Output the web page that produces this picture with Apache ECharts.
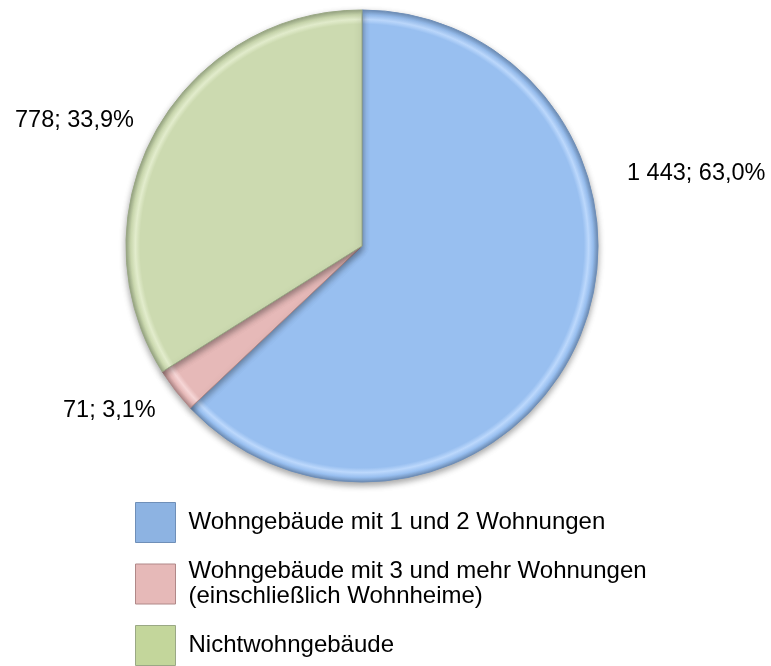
<!DOCTYPE html>
<html><head><meta charset="utf-8">
<script src="https://cdn.jsdelivr.net/npm/echarts@6/dist/echarts.min.js"></script>
<style>html,body{margin:0;padding:0;background:#fff}#c{width:771px;height:666px}</style>
</head><body><div id="c"></div>
<script>
const categories = ["Wohngebäude mit 1 und 2 Wohnungen", "Wohngebäude mit 3 und mehr Wohnungen\n(einschließlich Wohnheime)", "Nichtwohngebäude"];
const values = [1443, 71, 778];
const labelTexts = ["1 443; 63,0%", "71; 3,1%", "778; 33,9%"];
const baseColors = ["#98BFF0", "#E6B9B8", "#CCDAB0"];
const lightColors = ["#BCD8FC", "#F6D6D6", "#E2ECCC"];
const darkColors = ["#6F8FB8", "#B08888", "#9AA885"];
const legendColors = ["#8DB3E2", "#E6B9B8", "#C3D69B"];

const CX = 362, CY = 246, R = 236;
const labelPos = [[627, 174], [63, 411], [15, 121]];

function grad(i) {
  return {
    type: 'radial', x: CX, y: CY, r: R, global: true,
    colorStops: [
      {offset: 0, color: baseColors[i]},
      {offset: 0.94, color: baseColors[i]},
      {offset: 0.96, color: lightColors[i]},
      {offset: 0.98, color: baseColors[i]},
      {offset: 1, color: darkColors[i]}
    ]
  };
}

const data = values.map((v, i) => ({
  name: categories[i], value: v,
  itemStyle: {color: grad(i), borderColor: darkColors[i], borderWidth: 1,
    shadowBlur: 6, shadowColor: 'rgba(0,0,0,0.35)', shadowOffsetY: 3},
  label: {formatter: labelTexts[i]}
}));

const chart = echarts.init(document.getElementById('c'), null, {renderer: 'canvas'});
chart.setOption({
  animation: false,
  backgroundColor: '#fff',
  legend: {
    orient: 'vertical', left: 135, top: 502, padding: 0,
    itemWidth: 40, itemHeight: 40, itemGap: 16,
    icon: 'rect',
    textStyle: {fontFamily: 'Liberation Sans, Arial, sans-serif', fontSize: 24, color: '#000', lineHeight: 25, padding: [0, 0, 0, 8]},
    data: categories.map((c, i) => ({name: c, itemStyle: {color: legendColors[i], borderColor: darkColors[i], borderWidth: 1}}))
  },
  series: [{
    type: 'pie', center: [CX, CY], radius: R, startAngle: 90, clockwise: true,
    data: data,
    label: {show: true, position: 'outside', color: '#000', fontFamily: 'Liberation Sans, Arial, sans-serif', fontSize: 23.5, overflow: 'none', width: 200},
    labelLine: {show: false},
    labelLayout: function (p) {
      const pos = labelPos[p.dataIndex];
      return {x: pos[0], y: pos[1], align: 'left', verticalAlign: 'middle'};
    },
    emphasis: {disabled: true}
  }]
});
</script></body></html>
